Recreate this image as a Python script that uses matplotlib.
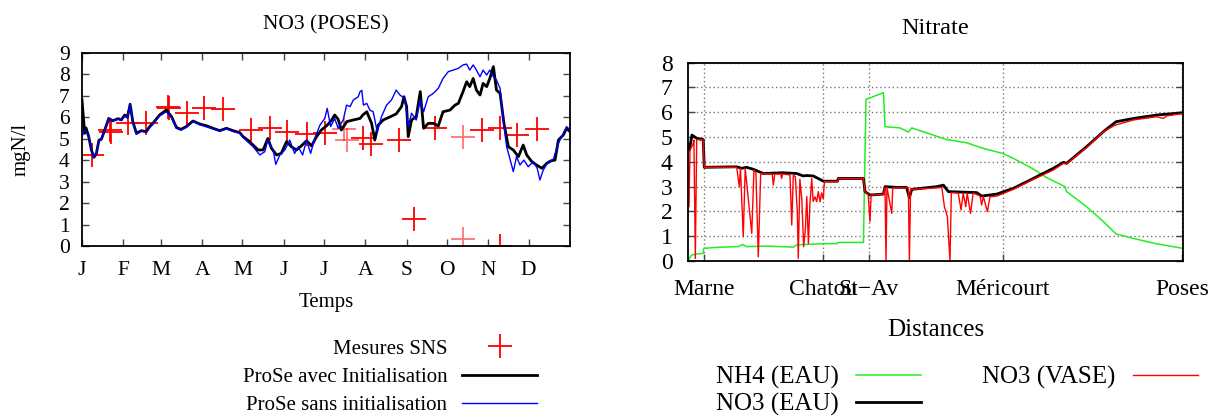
import matplotlib
matplotlib.use("Agg")
import matplotlib.pyplot as plt

plt.rcParams['font.family'] = ['Liberation Serif', 'DejaVu Serif']

# --- left panel : NO3 a Poses (jours de l'annee) ---
mois_jours = [0, 31, 59, 90, 120, 151, 181, 212, 243, 273, 304, 334]
mois_labels = ["J", "F", "M", "A", "M", "J", "J", "A", "S", "O", "N", "D"]

mes_jours = [7.5, 20.7, 21.5, 34.4, 48, 64.4, 65, 78.6, 91, 105.5, 126.7, 140.5, 153.7,
             168, 181.7, 210.4, 215.8, 237.3, 248.3, 264, 299.4, 312.6, 312.6, 325.6, 340.6]
mes_vals = [4.24, 5.4, 5.32, 5.74, 5.71, 6.49, 6.41, 6.18, 6.41, 6.36, 5.4, 5.48, 5.31,
            5.21, 5.28, 5.01, 4.73, 4.93, 1.24, 5.48, 5.4, 5.48, 0.0, 5.17, 5.43]
mes_pales_jours = [196, 198.2, 285.2, 285.2]
mes_pales_vals = [5.43, 4.93, 5.09, 0.31]

avec_jours = [0, 2, 3, 5, 7, 9, 10.7, 12.7, 14.5, 17,
              20, 23, 27, 29.4, 32, 34, 36, 38, 40.7, 44.4,
              48, 50.6, 53, 58, 63, 67, 70.6, 74, 78, 83,
              88, 93, 98, 103, 108, 113, 118, 120.5, 124, 128,
              131.7, 135.5, 139, 141.7, 145.5, 149, 153, 156.7, 160.4, 164,
              168, 171.7, 175.4, 179, 183, 186.6, 189, 191.6, 194, 198,
              203, 208, 210, 213, 216.6, 219, 221.6, 225.3, 230, 235,
              239, 240.8, 242.8, 244, 246.5, 250, 253, 255.5, 259, 262.8,
              266.5, 270, 275.3, 279, 281.5, 285, 287.7, 290, 292.6, 295,
              297.7, 300, 302.7, 305, 307.7, 310, 312.7, 315.6, 318.9, 322.6,
              326.4, 330, 332.6, 336.4, 340, 344, 347.6, 351, 353.8, 356.3,
              360, 362.5, 365]
avec_vals = [6.8, 5.25, 5.5, 5.1, 4.47, 4.13, 4.3, 4.93, 4.97, 5.4,
             5.94, 5.83, 5.93, 5.87, 6.1, 6.0, 6.6, 5.79, 5.25, 5.37,
             5.32, 5.56, 5.71, 6.1, 6.33, 6.02, 5.52, 5.43, 5.56, 5.82,
             5.68, 5.6, 5.48, 5.37, 5.48, 5.37, 5.28, 5.09, 4.93, 4.7,
             4.47, 4.47, 5.01, 4.55, 4.24, 4.31, 4.86, 4.62, 4.47, 4.66,
             4.9, 4.66, 5.09, 5.4, 5.6, 5.85, 6.1, 5.9, 5.4, 5.79,
             5.87, 5.94, 6.1, 6.25, 5.71, 4.93, 5.63, 5.87, 6.0, 6.15,
             6.49, 6.95, 6.49, 5.09, 5.87, 6.02, 7.19, 5.48, 5.71, 5.71,
             5.59, 6.25, 6.33, 6.56, 6.64, 7.19, 7.65, 7.42, 7.8, 7.26,
             7.03, 7.57, 7.42, 7.8, 8.35, 7.26, 7.11, 5.71, 4.62, 4.47,
             4.16, 4.7, 4.24, 3.93, 3.77, 3.62, 3.85, 3.97, 4.0, 4.93,
             5.17, 5.48, 5.32]

sans_jours = [0, 2, 5, 7, 9, 10.7, 12.7, 14.5, 17, 20,
              23, 27, 29.4, 32, 34, 36, 38, 40.7, 44.4, 48,
              50.6, 53, 58, 63, 67, 70.6, 74, 78, 83, 88,
              93, 98, 103, 108, 113, 118, 120.5, 124, 128, 133,
              136.7, 139, 143, 144.9, 148, 151.7, 155.4, 159, 161.7, 165,
              168, 171, 174, 178, 181.6, 183.4, 186, 189, 191.6, 195.4,
              197.9, 200.5, 203, 206.6, 208, 209.3, 210.5, 213, 215.3, 217.8,
              220.8, 224, 227.8, 231.5, 235, 237.8, 241.5, 244, 246.5, 250,
              253, 255.5, 259, 262.8, 266.5, 270, 274, 277.7, 281.5, 285,
              287.7, 290, 292.6, 295, 297.7, 300, 302.7, 305, 307.7, 310,
              312.7, 315, 317.6, 320, 322.6, 325, 327.6, 330.5, 333.8, 337.6,
              340.5, 342.5, 345, 348.8, 352.5, 356.3, 360, 362.5, 365]
sans_vals = [5.1, 5.4, 5.17, 4.47, 4.13, 4.3, 4.93, 4.97, 5.4, 5.94,
             5.83, 5.9, 5.85, 6.05, 5.95, 6.6, 5.75, 5.2, 5.35, 5.3,
             5.5, 5.68, 6.05, 6.25, 5.98, 5.48, 5.4, 5.52, 5.8, 5.65,
             5.55, 5.45, 5.35, 5.46, 5.33, 5.25, 5.05, 4.85, 4.62, 4.24,
             4.39, 4.93, 4.47, 3.8, 4.24, 4.47, 4.93, 4.31, 4.62, 4.24,
             4.93, 4.31, 5.01, 5.63, 5.94, 6.41, 5.56, 5.94, 5.48, 5.87,
             6.56, 6.49, 6.8, 6.95, 7.19, 7.25, 6.56, 6.64, 6.33, 6.25,
             5.32, 6.02, 6.56, 6.8, 7.26, 7.03, 6.87, 5.56, 6.18, 5.87,
             6.8, 6.25, 6.95, 7.11, 7.34, 7.8, 8.12, 8.19, 8.27, 8.43,
             8.47, 8.19, 8.43, 8.19, 7.88, 8.19, 7.96, 8.19, 7.88, 7.73,
             7.34, 5.87, 4.62, 4.08, 3.46, 4.16, 3.77, 4.0, 3.69, 3.93,
             3.62, 3.07, 3.54, 3.93, 4.03, 4.78, 5.25, 5.56, 5.4]

# --- right panel : profil en long (km) ---
sites_km = [8.2, 68.0, 91.4, 159.0, 249.5]
sites_labels = ["Marne", "Chatou", "St\u2212Av", "Méricourt", "Poses"]

nh4_km = [0.3, 1.8, 4.4, 7.7, 7.9, 14.5, 25.4, 27.6, 29.6, 39.7,
          53.2, 54.9, 68.4, 75.1, 75.9, 88.6, 89.9, 98.7, 99.5, 107,
          111.3, 113, 130.6, 140.7, 149.2, 158.9, 164.3, 174.4, 181.2, 190.4,
          191.2, 201.3, 209.8, 216.2, 225, 236.8, 250]
nh4_vals = [0.04, 0.24, 0.28, 0.31, 0.51, 0.55, 0.58, 0.67, 0.58, 0.6,
            0.56, 0.65, 0.7, 0.7, 0.75, 0.75, 6.52, 6.79, 5.42, 5.37,
            5.2, 5.37, 4.9, 4.77, 4.54, 4.34, 4.14, 3.71, 3.36, 3.0,
            2.8, 2.19, 1.59, 1.09, 0.91, 0.69, 0.51]

eau_km = [0, 0.7, 2.0, 4.4, 7.7, 8.2, 24.6, 27.1, 29.6, 33,
          38, 48.1, 54.9, 58.2, 59.9, 63.3, 68.4, 75.5, 75.9, 88.6,
          89.4, 91.9, 98.7, 99.5, 105.4, 110.4, 111.8, 113, 125.6, 129,
          131.5, 145.8, 148.3, 156, 164.3, 174.4, 184.5, 189.6, 191.2, 201.3,
          209.8, 216.2, 225, 236.8, 250]
eau_vals = [4.68, 4.48, 5.08, 4.95, 4.9, 3.78, 3.8, 3.74, 3.78, 3.7,
            3.53, 3.56, 3.53, 3.43, 3.45, 3.43, 3.22, 3.22, 3.33, 3.33,
            2.8, 2.66, 2.7, 3.0, 2.97, 2.97, 2.55, 2.89, 3.0, 3.06,
            2.8, 2.76, 2.62, 2.7, 2.93, 3.33, 3.74, 3.98, 3.94, 4.61,
            5.22, 5.62, 5.75, 5.89, 5.98]

vase_km = [0, 0.5, 1.0, 2.4, 3.0, 3.7, 4.4, 7.7, 8.2, 24.6,
           25.9, 26.5, 27.9, 28.9, 32.2, 33.3, 34.3, 35.5, 36.7, 42.5,
           43.1, 43.8, 46.8, 47.3, 47.8, 51.5, 52.4, 53.2, 54.2, 55.2,
           55.7, 56.5, 57.5, 58.4, 59.3, 60.0, 60.8, 61.6, 62.5, 63.2,
           64.1, 65.0, 65.8, 66.7, 67.5, 68.3, 68.9, 75.5, 75.9, 88.6,
           89.4, 91.0, 91.9, 92.5, 98.7, 99.5, 100.0, 100.5, 102.9, 103.4,
           111.3, 111.8, 112.4, 125.6, 128.2, 129.5, 131.0, 132.3, 133.0, 136.5,
           137.9, 139.0, 140.3, 141.0, 142.7, 144.0, 147.5, 148.3, 149.2, 151.2,
           152.5, 156.0, 164.3, 174.4, 184.5, 189.6, 191.2, 201.3, 209.8, 215.7,
           225.0, 236.8, 240.0, 241.7, 250.0]
vase_vals = [4.34, 2.19, 4.48, 4.68, 4.88, 0.1, 4.9, 4.88, 3.78, 3.78,
             3.0, 3.74, 0.98, 3.74, 1.12, 3.67, 3.56, 0.17, 3.53, 3.51,
             3.06, 3.51, 3.51, 3.33, 3.51, 3.47, 1.45, 3.47, 3.4, 2.0,
             0.1, 3.3, 2.46, 0.58, 1.3, 2.6, 0.7, 2.33, 3.33, 2.4,
             2.59, 2.39, 2.8, 2.39, 2.75, 2.5, 3.2, 3.2, 3.33, 3.33,
             2.8, 2.66, 1.59, 2.66, 2.7, 2.97, 0.0, 2.97, 1.92, 2.95,
             2.95, 0.0, 2.89, 2.95, 2.97, 2.19, 1.79, 0.0, 2.76, 2.74,
             2.06, 2.74, 2.19, 2.74, 1.92, 2.74, 2.62, 2.26, 2.6, 1.99,
             2.59, 2.62, 2.89, 3.29, 3.67, 3.94, 3.92, 4.58, 5.22, 5.48,
             5.69, 5.82, 5.75, 5.85, 5.95]

W, H = 1220, 417
fig = plt.figure(figsize=(W / 100, H / 100), dpi=100)


def boite(x0, y0, x1, y1):
    # pixels -> fraction de figure
    return [x0 / W, 1 - y1 / H, (x1 - x0) / W, (y1 - y0) / H]


# ---------------- gauche ----------------
ax1 = fig.add_axes(boite(82, 52.7, 570, 246))
ax1.plot(mes_jours, mes_vals, ls='none', marker='+', ms=17, mew=1.3, color='#ff0000',
         label='Mesures SNS')
ax1.plot(mes_pales_jours, mes_pales_vals, ls='none', marker='+', ms=17, mew=1.3,
         color='#ff0000', alpha=0.55)
ax1.plot(avec_jours, avec_vals, color='black', lw=2.0, label='ProSe avec Initialisation')
ax1.plot(sans_jours, sans_vals, color='#0000ff', lw=1.0, label='ProSe sans initialisation')
ax1.set_xlim(0, 365)
ax1.set_ylim(0, 9)
ax1.set_xticks(mois_jours)
ax1.set_xticklabels(mois_labels)
ax1.set_yticks(range(0, 10))
ax1.tick_params(axis='x', pad=11)
ax1.tick_params(axis='y', pad=9)
ax1.tick_params(direction='in', top=True, right=True, length=5, width=1,
                labelsize=15.5, color='#444444')
ax1.set_title("NO3 (POSES)", fontsize=15.5, pad=17)
ax1.set_xlabel("Temps", fontsize=15, labelpad=9)
ax1.set_ylabel("mgN/l", fontsize=15, labelpad=20)
for s in ax1.spines.values():
    s.set_linewidth(1.3)
leg1 = ax1.legend(loc='upper right', bbox_to_anchor=(537 / W, 1 - 339 / H),
                  bbox_transform=fig.transFigure, frameon=False, markerfirst=False,
                  fontsize=15, handlelength=3.6, handletextpad=0.7, labelspacing=0.42,
                  borderpad=0, borderaxespad=0)

# ---------------- droite ----------------
ax2 = fig.add_axes(boite(688, 62.7, 1183, 261))
ax2.plot(nh4_km, nh4_vals, color='#22ee22', lw=1.1, label='NH4 (EAU)')
ax2.plot(eau_km, eau_vals, color='black', lw=2.0, label='NO3 (EAU)')
ax2.plot(vase_km, vase_vals, color='#ff0000', lw=1.0, label='NO3 (VASE)')
ax2.set_xlim(0, 250)
ax2.set_ylim(0, 8)
ax2.set_xticks(sites_km)
ax2.set_xticklabels(sites_labels)
ax2.set_yticks(range(0, 9))
ax2.grid(True, color='#777777', ls=(0, (1, 2)), lw=1.0)
ax2.tick_params(axis='x', pad=13)
ax2.tick_params(axis='y', pad=11)
ax2.tick_params(direction='in', right=True, length=5, width=1, labelsize=17,
                color='#444444')
ax2.set_title("Nitrate", fontsize=17.5, pad=21)
ax2.set_xlabel("Distances", fontsize=18, labelpad=14)
for s in ax2.spines.values():
    s.set_linewidth(1.3)
leg2 = ax2.legend(loc='upper right', bbox_to_anchor=(1198 / W, 1 - 366 / H),
                  bbox_transform=fig.transFigure, frameon=False, markerfirst=False,
                  ncol=2, fontsize=18, handlelength=2.6, handletextpad=0.7,
                  labelspacing=0.15, columnspacing=2.45, borderpad=0, borderaxespad=0)

fig.savefig("out.png", dpi=100)
